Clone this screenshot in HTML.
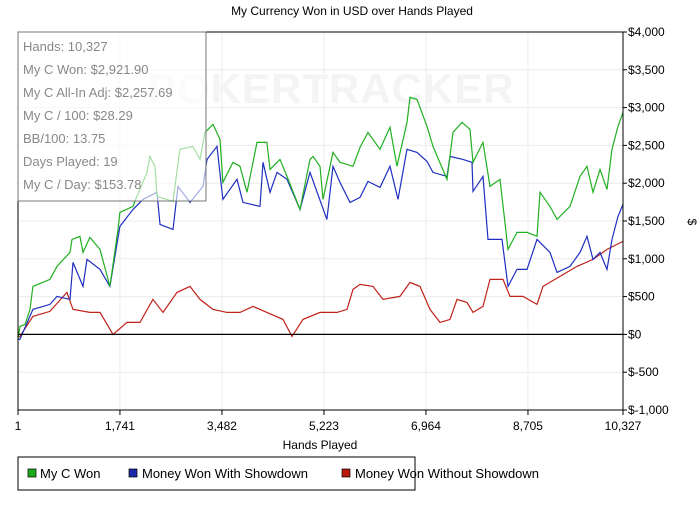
<!DOCTYPE html>
<html><head><meta charset="utf-8"><style>
body{margin:0;background:#fff;font-family:"Liberation Sans",sans-serif;}
svg text{font-family:"Liberation Sans",sans-serif;}
</style></head><body>
<svg id="chart" width="700" height="508" xmlns="http://www.w3.org/2000/svg">
<rect width="700" height="508" fill="#fff"/>
<text x="352" y="15" font-size="12" text-anchor="middle" fill="#000">My Currency Won in USD over Hands Played</text>
<g id="grid"></g>
<text x="148" y="103" font-size="42" font-weight="bold" fill="#f4f4f4" letter-spacing="1">POKERTRACKER</text>
<g id="series"></g>
<g id="axes"></g>
<g>
<rect x="18" y="32" width="188" height="169" fill="rgba(255,255,255,0.6)" stroke="#777" stroke-width="1"/>
<g font-size="13" fill="#888">
<text x="23" y="51">Hands: 10,327</text>
<text x="23" y="74">My C Won: $2,921.90</text>
<text x="23" y="97">My C All-In Adj: $2,257.69</text>
<text x="23" y="120">My C / 100: $28.29</text>
<text x="23" y="143">BB/100: 13.75</text>
<text x="23" y="166">Days Played: 19</text>
<text x="23" y="189">My C / Day: $153.78</text>
</g></g>
<text x="320" y="449" font-size="12" text-anchor="middle">Hands Played</text>
<text x="688" y="222" font-size="12" text-anchor="middle" transform="rotate(90 688 222)">$</text>
<g>
<rect x="18" y="457" width="397" height="33" fill="#fff" stroke="#000"/>
<g><rect x="28" y="469" width="8" height="8" fill="#1aaa1a" stroke="#000" stroke-width="0.7"/><text x="40" y="478" font-size="13">My C Won</text></g>
<g><rect x="129" y="469" width="8" height="8" fill="#1a2aaa" stroke="#000" stroke-width="0.7"/><text x="142" y="478" font-size="13">Money Won With Showdown</text></g>
<g><rect x="342" y="469" width="8" height="8" fill="#b81a10" stroke="#000" stroke-width="0.7"/><text x="355" y="478" font-size="13">Money Won Without Showdown</text></g>
</g>
</svg>
<script>
const xTicks=[1,1741,3482,5223,6964,8705,10327];
const yTicks=[-1000,-500,0,500,1000,1500,2000,2500,3000,3500,4000];
const yTickLabels=["$-1,000","$-500","$0","$500","$1,000","$1,500","$2,000","$2,500","$3,000","$3,500","$4,000"];
const greenHands=[1,34,120,205,256,546,666,888,922,1058,1110,1229,1400,1570,1707,1741,1963,2031,2202,2253,2339,2373,2646,2765,2987,3107,3192,3329,3448,3499,3670,3790,3909,4080,4250,4302,4472,4592,4814,4985,5036,5155,5206,5377,5497,5718,5838,5975,6179,6350,6470,6640,6691,6811,6982,7084,7323,7425,7579,7715,7767,7938,8057,8228,8364,8518,8688,8859,8910,9081,9201,9423,9593,9713,9815,9935,10054,10140,10242,10327];
const greenValues=[-66,106,132,331,635,728,900,1085,1257,1297,1085,1283,1124,635,1389,1614,1693,1826,2143,2355,2223,1826,1760,2448,2487,2315,2672,2778,2580,2011,2276,2223,1879,2540,2540,2183,2315,2090,1654,2315,2355,2223,1786,2408,2276,2223,2474,2672,2448,2739,2223,2805,3136,3109,2752,2487,2051,2672,2805,2712,2276,2540,1958,2051,1124,1349,1349,1297,1879,1693,1521,1693,2090,2223,1879,2183,1918,2448,2752,2937];
const blueHands=[1,34,256,546,666,888,939,1110,1178,1400,1570,1741,1963,2134,2373,2424,2646,2731,2936,3158,3226,3397,3499,3739,3841,4131,4182,4302,4421,4592,4814,4985,5274,5377,5497,5667,5838,5975,6179,6350,6487,6640,6811,6982,7084,7323,7374,7596,7750,7767,7938,8023,8262,8364,8518,8688,8859,9081,9201,9423,9593,9713,9815,9935,10054,10140,10242,10327];
const blueValues=[-66,-66,331,397,503,463,953,635,992,860,635,1429,1654,1786,1879,1455,1389,1958,1746,1958,2315,2487,1786,2051,1746,1693,2276,1879,2143,2051,1654,2143,1521,2223,2011,1746,1812,2024,1945,2223,1786,2448,2408,2289,2143,2090,2355,2315,2276,1892,2090,1257,1257,635,860,860,1257,1085,820,900,1085,1297,992,1085,860,1257,1561,1720];
const redHands=[1,34,256,546,836,939,1229,1400,1622,1861,2083,2304,2475,2714,2936,3107,3329,3568,3790,4012,4250,4524,4677,4865,5155,5445,5616,5718,5838,6060,6230,6520,6691,6862,7033,7204,7374,7494,7664,7767,7938,8057,8279,8398,8620,8859,8961,9251,9542,9815,10054,10327];
const redValues=[-40,-26,238,304,556,331,291,291,0,159,159,463,291,556,635,463,331,291,291,370,291,198,-26,198,291,291,331,595,662,635,463,503,688,635,331,159,198,463,423,291,370,728,728,503,503,397,635,767,900,992,1124,1230];
const NS="http://www.w3.org/2000/svg";
const L=18,R=623,T=32,B=410;
const xS=h=>L+(h-1)/(10327-1)*(R-L);
const yS=v=>B-(v+1000)/5000*(B-T);
function mk(tag,attrs,parent){const e=document.createElementNS(NS,tag);for(const k in attrs)e.setAttribute(k,attrs[k]);parent.appendChild(e);return e;}
const grid=document.getElementById('grid'),axes=document.getElementById('axes'),series=document.getElementById('series');
xTicks.forEach((t,i)=>{
 const g=mk('line',{x1:xS(t),x2:xS(t),y1:T,y2:B,stroke:'#ececec','stroke-width':1},grid);
 
 
 mk('line',{x1:xS(t),x2:xS(t),y1:B,y2:B+5,stroke:'#000'},axes);
 const tx=mk('text',{x:xS(t),y:B+20,'font-size':12,'text-anchor':'middle'},axes);
 
 
 tx.textContent=t.toLocaleString('en-US');
});
yTicks.forEach((t,i)=>{
 const g=mk('line',{x1:L,x2:R,y1:yS(t),y2:yS(t),stroke:'#ececec','stroke-width':1},grid);
 
 
 mk('line',{x1:R,x2:R+4,y1:yS(t),y2:yS(t),stroke:'#000'},axes);
 const tx=mk('text',{x:R+5,y:yS(t)+4,'font-size':12},axes);
 
 
 tx.textContent=yTickLabels[i];
});
mk('rect',{x:L,y:T,width:R-L,height:B-T,fill:'none',stroke:'#000','stroke-width':1},axes);
const z=mk('line',{x1:L,x2:R,y1:yS(0),y2:yS(0),stroke:'#000','stroke-width':1.2},axes);


function line(hs,vs,col,name){
 const p=mk('polyline',{points:hs.map((h,i)=>xS(h).toFixed(1)+','+yS(vs[i]).toFixed(1)).join(' '),fill:'none',stroke:col,'stroke-width':1.2},series);
 
 
}
line(redHands,redValues,'#c0231a','series-without-showdown');
line(blueHands,blueValues,'#1f2fc0','series-with-showdown');
line(greenHands,greenValues,'#20b020','series-my-c-won');
</script>
</body></html>
